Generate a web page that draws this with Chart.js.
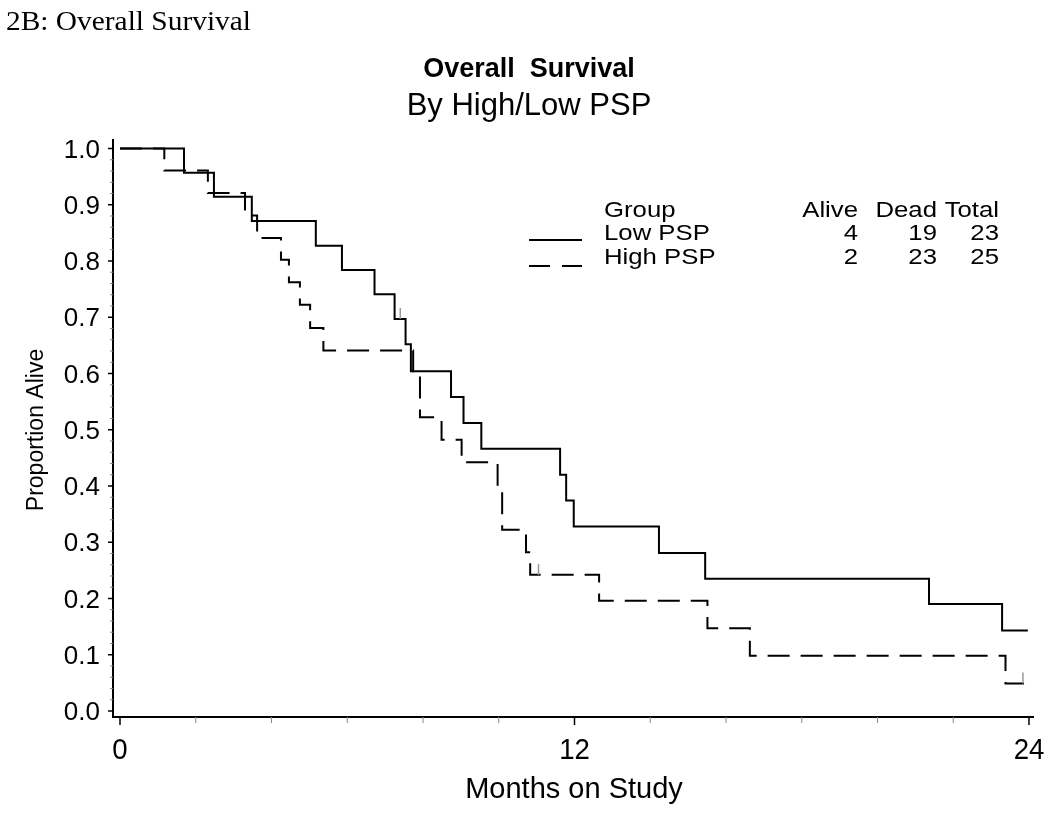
<!DOCTYPE html>
<html>
<head>
<meta charset="utf-8">
<script src="https://cdn.jsdelivr.net/npm/chart.js@4.4.1/dist/chart.umd.min.js"></script>
<style>
  html, body { margin: 0; padding: 0; background: #fff; }
  #km { display: block; }
</style>
</head>
<body>
<canvas id="km" width="1050" height="813"></canvas>
<script>
// ---------------- Data ----------------
const lowTime = [0, 1.69, 2.48, 3.48, 5.17, 5.86, 6.72, 7.25, 7.54, 7.68, 8.74, 9.07, 9.54, 11.62, 11.78, 11.98, 14.23, 15.45, 21.36, 23.29, 23.97];
const lowSurv = [1.0, 0.957, 0.914, 0.871, 0.827, 0.784, 0.741, 0.697, 0.652, 0.604, 0.558, 0.512, 0.466, 0.420, 0.374, 0.328, 0.281, 0.235, 0.190, 0.143, 0.143];
const highTime = [0, 1.17, 2.32, 3.30, 3.62, 4.25, 4.46, 4.75, 5.02, 5.37, 7.74, 7.92, 8.49, 9.02, 9.97, 10.09, 10.72, 10.83, 12.65, 15.51, 16.63, 23.38, 23.87];
const highSurv = [1.0, 0.961, 0.921, 0.881, 0.841, 0.802, 0.762, 0.722, 0.681, 0.641, 0.602, 0.522, 0.482, 0.442, 0.402, 0.322, 0.282, 0.242, 0.196, 0.147, 0.098, 0.049, 0.049];

// censored observations (small grey ticks)
const lowCensorTime = [7.40];
const lowCensorSurv = [0.697];
const highCensorTime = [11.05, 23.84];
const highCensorSurv = [0.242, 0.049];

const yTicks = [0, 0.1, 0.2, 0.3, 0.4, 0.5, 0.6, 0.7, 0.8, 0.9, 1.0];
const xTicks = [0, 12, 24];

const legendGroups = ["Low PSP", "High PSP"];
const legendAlive = [4, 2];
const legendDead = [19, 23];
const legendTotal = [23, 25];

const toPoints = (xs, ys) => xs.map((x, i) => ({ x, y: ys[i] }));

// stretched text helper (SAS fonts are a bit wider than Liberation)
function drawText(ctx, txt, x, y, font, align, sx) {
  ctx.save();
  ctx.font = font;
  ctx.textAlign = align;
  ctx.textBaseline = "alphabetic";
  ctx.translate(x, y);
  ctx.scale(sx || 1, 1);
  ctx.fillText(txt, 0, 0);
  ctx.restore();
}

// ---------------- Axes, ticks, titles, legend ----------------
const decorPlugin = {
  id: "decor",
  afterDraw(chart) {
    const ctx = chart.ctx;
    const xs = chart.scales.x;
    const ys = chart.scales.y;
    const axisY = chart.chartArea.bottom;
    const axisX = chart.chartArea.left;
    ctx.save();
    ctx.fillStyle = "#000";

    // y ticks: major every 0.1, minor every 0.02
    for (let k = 0; k <= 50; k++) {
      const v = k / 50;
      const py = ys.getPixelForValue(v);
      const major = k % 5 === 0;
      ctx.strokeStyle = major ? "#000" : "#888";
      ctx.lineWidth = major ? 1.5 : 1;
      ctx.beginPath();
      ctx.moveTo(axisX - (major ? 5 : 3), py);
      ctx.lineTo(axisX, py);
      ctx.stroke();
    }
    yTicks.forEach((v) => {
      ctx.save();
      ctx.font = "26px 'Liberation Sans', Arial, sans-serif";
      ctx.textAlign = "right";
      ctx.textBaseline = "middle";
      ctx.fillText(v.toFixed(1), 100, ys.getPixelForValue(v) + 2);
      ctx.restore();
    });

    // x ticks: every 2 months, labels at 0/12/24
    for (let m = 0; m <= 24; m += 2) {
      const px = xs.getPixelForValue(m);
      const major = m % 12 === 0;
      ctx.strokeStyle = major ? "#000" : "#888";
      ctx.lineWidth = major ? 1.5 : 1;
      ctx.beginPath();
      ctx.moveTo(px, axisY);
      ctx.lineTo(px, axisY + (major ? 8 : 6));
      ctx.stroke();
    }
    xTicks.forEach((m) => {
      drawText(ctx, String(m), xs.getPixelForValue(m), 759, "30px 'Liberation Sans', Arial, sans-serif", "center", 0.92);
    });

    // censor marks
    ctx.strokeStyle = "#999";
    ctx.lineWidth = 1.5;
    const censor = (ts, ss) => ts.forEach((t, i) => {
      const px = xs.getPixelForValue(t);
      const py = ys.getPixelForValue(ss[i]);
      ctx.beginPath();
      ctx.moveTo(px, py);
      ctx.lineTo(px, py - 11);
      ctx.stroke();
    });
    censor(lowCensorTime, lowCensorSurv);
    censor(highCensorTime, highCensorSurv);

    // titles
    drawText(ctx, "2B: Overall Survival", 6, 30, "28px 'Liberation Serif', 'Times New Roman', serif", "left", 1.05);
    drawText(ctx, "Overall  Survival", 529, 77, "bold 27px 'Liberation Sans', Arial, sans-serif", "center", 1.0);
    drawText(ctx, "By High/Low PSP", 529, 115, "31px 'Liberation Sans', Arial, sans-serif", "center", 1.0);
    drawText(ctx, "Months on Study", 574, 798, "29px 'Liberation Sans', Arial, sans-serif", "center", 1.0);

    ctx.save();
    ctx.translate(43, 430);
    ctx.rotate(-Math.PI / 2);
    ctx.font = "23px 'Liberation Sans', Arial, sans-serif";
    ctx.textAlign = "center";
    ctx.fillText("Proportion Alive", 0, 0);
    ctx.restore();

    // legend table
    const lf = "22px 'Liberation Sans', Arial, sans-serif";
    const sx = 1.17;
    drawText(ctx, "Group", 604, 217, lf, "left", sx);
    drawText(ctx, "Alive", 858, 217, lf, "right", sx);
    drawText(ctx, "Dead", 937, 217, lf, "right", sx);
    drawText(ctx, "Total", 999, 217, lf, "right", sx);
    const rowY = [240, 264];
    legendGroups.forEach((g, i) => {
      drawText(ctx, g, 604, rowY[i], lf, "left", sx);
      drawText(ctx, String(legendAlive[i]), 858, rowY[i], lf, "right", sx);
      drawText(ctx, String(legendDead[i]), 937, rowY[i], lf, "right", sx);
      drawText(ctx, String(legendTotal[i]), 999, rowY[i], lf, "right", sx);
    });
    ctx.strokeStyle = "#000";
    ctx.lineWidth = 2;
    ctx.beginPath();
    ctx.moveTo(529, 240);
    ctx.lineTo(582, 240);
    ctx.stroke();
    ctx.setLineDash([21, 12]);
    ctx.beginPath();
    ctx.moveTo(529, 266);
    ctx.lineTo(582, 266);
    ctx.stroke();

    ctx.restore();
  },
};

new Chart(document.getElementById("km"), {
  type: "line",
  data: {
    datasets: [
      {
        label: "High PSP",
        data: toPoints(highTime, highSurv),
        stepped: true,
        borderColor: "#000",
        borderWidth: 2,
        borderDash: [22, 11],
        pointRadius: 0,
        fill: false,
      },
      {
        label: "Low PSP",
        data: toPoints(lowTime, lowSurv),
        stepped: true,
        borderColor: "#000",
        borderWidth: 2,
        pointRadius: 0,
        fill: false,
      },
    ],
  },
  options: {
    responsive: false,
    animation: false,
    events: [],
    layout: { padding: { top: 140, right: 17, left: 0, bottom: 0 } },
    plugins: { legend: { display: false }, tooltip: { enabled: false } },
    scales: {
      x: {
        type: "linear",
        min: -0.185,
        max: 24.106,
        ticks: { display: false },
        grid: { display: false },
        border: { display: true, color: "#000", width: 2 },
        afterFit: (s) => { s.height = 96; },
      },
      y: {
        type: "linear",
        min: -0.0107,
        max: 1.0151,
        ticks: { display: false },
        grid: { display: false },
        border: { display: true, color: "#000", width: 2 },
        afterFit: (s) => { s.width = 113; },
      },
    },
  },
  plugins: [decorPlugin],
});
</script>
</body>
</html>
